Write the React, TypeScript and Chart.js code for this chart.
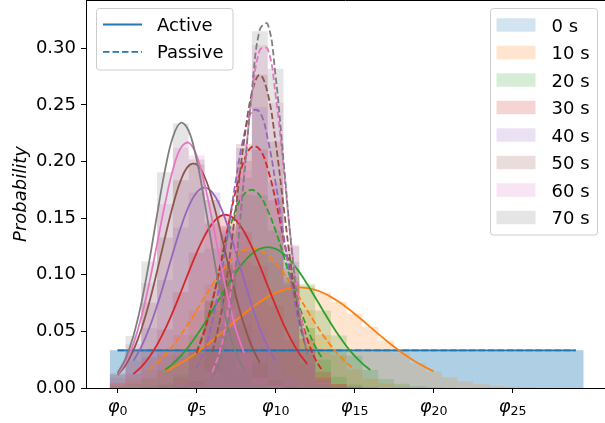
import React, { useEffect, useRef } from 'react';
import { Chart, registerables } from 'chart.js';

Chart.register(...registerables);

// ---------- categories / labels ----------
const TIMES = ['0 s', '10 s', '20 s', '30 s', '40 s', '50 s', '60 s', '70 s'];
const MODES = ['Active', 'Passive'];
const COLORS = ['#1f77b4', '#ff7f0e', '#2ca02c', '#d62728', '#9467bd', '#8c564b', '#e377c2', '#7f7f7f'];
const X_TICKS = [0, 5, 10, 15, 20, 25];
const Y_TICKS = [0, 0.05, 0.1, 0.15, 0.2, 0.25, 0.3];
const X_MIN = -2;
const X_MAX = 30.85;
const Y_MAX = 0.3427;

// ---------- histograms (probability per state φ0..φ29) ----------
const HIST_ACTIVE_0 = [0.0333, 0.0333, 0.0333, 0.0333, 0.0333, 0.0333, 0.0333, 0.0333, 0.0333, 0.0333, 0.0333, 0.0333, 0.0333, 0.0333, 0.0333, 0.0333, 0.0333, 0.0333, 0.0333, 0.0333, 0.0333, 0.0333, 0.0333, 0.0333, 0.0333, 0.0333, 0.0333, 0.0333, 0.0333, 0.0333];
const HIST_PASSIVE_0 = [0.0333, 0.0333, 0.0333, 0.0333, 0.0333, 0.0333, 0.0333, 0.0333, 0.0333, 0.0333, 0.0333, 0.0333, 0.0333, 0.0333, 0.0333, 0.0333, 0.0333, 0.0333, 0.0333, 0.0333, 0.0333, 0.0333, 0.0333, 0.0333, 0.0333, 0.0333, 0.0333, 0.0333, 0.0333, 0.0333];
const HIST_ACTIVE_10 = [0.0033, 0.0058, 0.0095, 0.0148, 0.022, 0.0312, 0.042, 0.0538, 0.0656, 0.0761, 0.0841, 0.0883, 0.0900, 0.0841, 0.0761, 0.0656, 0.0538, 0.042, 0.0312, 0.022, 0.0148, 0.0095, 0.0058, 0.0033, 0.0018, 0.001, 0.0005, 0.0002, 0.0001, 0];
const HIST_PASSIVE_10 = [0.0039, 0.0084, 0.0164, 0.0291, 0.0469, 0.0686, 0.0913, 0.1105, 0.1215, 0.1215, 0.1105, 0.0913, 0.0686, 0.0469, 0.0291, 0.0164, 0.0084, 0.0039, 0.0017, 0.0006, 0.0002, 0, 0, 0, 0, 0, 0, 0, 0, 0];
const HIST_ACTIVE_20 = [0.0015, 0.0037, 0.008, 0.0158, 0.0284, 0.0463, 0.0685, 0.0918, 0.1115, 0.123, 0.123, 0.1115, 0.0918, 0.0685, 0.0463, 0.0284, 0.0158, 0.008, 0.0037, 0.0015, 0.0006, 0.0002, 0, 0, 0, 0, 0, 0, 0, 0];
const HIST_PASSIVE_20 = [0, 0, 0.001, 0.004, 0.012, 0.032, 0.077, 0.136, 0.171, 0.17, 0.139, 0.094, 0.053, 0.025, 0.01, 0.003, 0.001, 0, 0, 0, 0, 0, 0, 0, 0, 0, 0, 0, 0, 0];
const HIST_ACTIVE_30 = [0.0049, 0.0124, 0.0272, 0.0517, 0.0846, 0.1194, 0.1454, 0.1527, 0.1383, 0.108, 0.0728, 0.0423, 0.0212, 0.0092, 0.0034, 0.0011, 0.0003, 0, 0, 0, 0, 0, 0, 0, 0, 0, 0, 0, 0, 0];
const HIST_PASSIVE_30 = [0, 0, 0.0004, 0.0021, 0.0093, 0.0308, 0.0767, 0.1433, 0.2006, 0.2107, 0.1659, 0.098, 0.0434, 0.0144, 0.0036, 0.0007, 0.0001, 0, 0, 0, 0, 0, 0, 0, 0, 0, 0, 0, 0, 0];
const HIST_ACTIVE_40 = [0.0089, 0.024, 0.0528, 0.0955, 0.1417, 0.1727, 0.1727, 0.1417, 0.0955, 0.0528, 0.024, 0.0089, 0.0027, 0.0007, 0.0001, 0, 0, 0, 0, 0, 0, 0, 0, 0, 0, 0, 0, 0, 0, 0];
const HIST_PASSIVE_40 = [0, 0, 0, 0.0005, 0.0034, 0.0172, 0.0592, 0.1392, 0.212, 0.248, 0.1813, 0.092, 0.0318, 0.0075, 0.0012, 0.0001, 0, 0, 0, 0, 0, 0, 0, 0, 0, 0, 0, 0, 0, 0];
const HIST_ACTIVE_50 = [0.0115, 0.0332, 0.0752, 0.1329, 0.1834, 0.1975, 0.1661, 0.1091, 0.0559, 0.0224, 0.007, 0.0017, 0.0003, 0, 0, 0, 0, 0, 0, 0, 0, 0, 0, 0, 0, 0, 0, 0, 0, 0];
const HIST_PASSIVE_50 = [0, 0, 0, 0, 0.0007, 0.0059, 0.0318, 0.1057, 0.2155, 0.2766, 0.2175, 0.1057, 0.0318, 0.0059, 0.0007, 0, 0, 0, 0, 0, 0, 0, 0, 0, 0, 0, 0, 0, 0, 0];
const HIST_ACTIVE_60 = [0.0122, 0.039, 0.0925, 0.1626, 0.2121, 0.2053, 0.1474, 0.0785, 0.031, 0.0091, 0.002, 0.0003, 0, 0, 0, 0, 0, 0, 0, 0, 0, 0, 0, 0, 0, 0, 0, 0, 0, 0];
const HIST_PASSIVE_60 = [0, 0, 0, 0, 0, 0.0016, 0.0141, 0.0695, 0.1917, 0.303, 0.252, 0.1266, 0.0348, 0.0054, 0.0005, 0, 0, 0, 0, 0, 0, 0, 0, 0, 0, 0, 0, 0, 0, 0];
const HIST_ACTIVE_70 = [0.0133, 0.0459, 0.1117, 0.1906, 0.2336, 0.2019, 0.1231, 0.0531, 0.0162, 0.0035, 0.0005, 0, 0, 0, 0, 0, 0, 0, 0, 0, 0, 0, 0, 0, 0, 0, 0, 0, 0, 0];
const HIST_PASSIVE_70 = [0, 0, 0, 0, 0, 0.0007, 0.0089, 0.0566, 0.1855, 0.315, 0.282, 0.1249, 0.0293, 0.0035, 0.0002, 0, 0, 0, 0, 0, 0, 0, 0, 0, 0, 0, 0, 0, 0, 0];

const HIST_ACTIVE = [HIST_ACTIVE_0, HIST_ACTIVE_10, HIST_ACTIVE_20, HIST_ACTIVE_30, HIST_ACTIVE_40, HIST_ACTIVE_50, HIST_ACTIVE_60, HIST_ACTIVE_70];
const HIST_PASSIVE = [HIST_PASSIVE_0, HIST_PASSIVE_10, HIST_PASSIVE_20, HIST_PASSIVE_30, HIST_PASSIVE_40, HIST_PASSIVE_50, HIST_PASSIVE_60, HIST_PASSIVE_70];

// ---------- fitted curves (sampled values; x = start + k * step) ----------
const CURVE_ACTIVE_0 = [0.0333, 0.0333];
const CURVE_ACTIVE_10 = [0.0148, 0.0182, 0.022, 0.0264, 0.0312, 0.0364, 0.042, 0.0478, 0.0538, 0.0598, 0.0656, 0.0711, 0.0761, 0.0805, 0.0841, 0.0867, 0.0883, 0.0889, 0.0883, 0.0867, 0.0841, 0.0805, 0.0761, 0.0711, 0.0656, 0.0598, 0.0538, 0.0478, 0.042, 0.0364, 0.0312, 0.0264, 0.022, 0.0182, 0.0148];
const CURVE_ACTIVE_20 = [0.0158, 0.0215, 0.0284, 0.0367, 0.0463, 0.057, 0.0685, 0.0802, 0.0918, 0.1024, 0.1115, 0.1186, 0.123, 0.1245, 0.123, 0.1186, 0.1115, 0.1024, 0.0918, 0.0802, 0.0685, 0.057, 0.0463, 0.0367, 0.0284, 0.0215, 0.0158];
const CURVE_ACTIVE_30 = [0.0124, 0.0187, 0.0272, 0.0382, 0.0517, 0.0674, 0.0846, 0.1024, 0.1194, 0.1342, 0.1454, 0.1518, 0.1527, 0.148, 0.1383, 0.1245, 0.108, 0.0903, 0.0728, 0.0565, 0.0423, 0.0305, 0.0212];
const CURVE_ACTIVE_40 = [0.024, 0.0364, 0.0528, 0.0728, 0.0955, 0.1192, 0.1417, 0.1604, 0.1727, 0.177, 0.1727, 0.1604, 0.1417, 0.1192, 0.0955, 0.0728, 0.0528, 0.0364, 0.024];
const CURVE_ACTIVE_50 = [0.0115, 0.0201, 0.0332, 0.0516, 0.0752, 0.1031, 0.1329, 0.161, 0.1834, 0.1963, 0.1975, 0.1868, 0.1661, 0.1388, 0.1091, 0.0805, 0.0559, 0.0365, 0.0224];
const CURVE_ACTIVE_60 = [0.0122, 0.0227, 0.039, 0.0624, 0.0925, 0.1273, 0.1626, 0.1928, 0.2121, 0.2166, 0.2053, 0.1805, 0.1474, 0.1116, 0.0785, 0.0512, 0.031];
const CURVE_ACTIVE_70 = [0.0133, 0.0259, 0.0459, 0.0748, 0.1117, 0.1531, 0.1924, 0.2217, 0.2343, 0.2271, 0.2019, 0.1646, 0.1231, 0.0844, 0.0531, 0.0306, 0.0162];

const CURVE_PASSIVE_0 = [0.0333, 0.0333];
const CURVE_PASSIVE_10 = [0.0164, 0.0222, 0.0291, 0.0374, 0.0469, 0.0574, 0.0686, 0.0801, 0.0913, 0.1017, 0.1105, 0.1173, 0.1215, 0.123, 0.1215, 0.1173, 0.1105, 0.1017, 0.0913, 0.0801, 0.0686, 0.0574, 0.0469, 0.0374, 0.0291, 0.0222, 0.0164];
const CURVE_PASSIVE_20 = [0.032, 0.052, 0.077, 0.106, 0.136, 0.158, 0.171, 0.175, 0.17, 0.157, 0.139, 0.117, 0.094, 0.072, 0.053, 0.037, 0.025];
const CURVE_PASSIVE_30 = [0.0308, 0.0504, 0.0767, 0.1087, 0.1433, 0.1757, 0.2006, 0.2131, 0.2107, 0.1938, 0.1659, 0.1322, 0.098, 0.0676, 0.0434, 0.0259, 0.0144];
const CURVE_PASSIVE_40 = [0.0172, 0.0334, 0.0592, 0.0952, 0.1392, 0.1848, 0.223, 0.2445, 0.2436, 0.2204, 0.1813, 0.1355, 0.092, 0.0567, 0.0318];
const CURVE_PASSIVE_50 = [0.0318, 0.0615, 0.1057, 0.161, 0.2175, 0.2605, 0.2766, 0.2605, 0.2175, 0.161, 0.1057, 0.0615, 0.0318];
const CURVE_PASSIVE_60 = [0.0141, 0.0337, 0.0695, 0.124, 0.1917, 0.2565, 0.2985, 0.2995, 0.2588, 0.1945, 0.1266, 0.0713, 0.0348];
const CURVE_PASSIVE_70 = [0.0089, 0.0244, 0.0566, 0.1113, 0.1855, 0.2623, 0.3165, 0.3215, 0.2756, 0.2015, 0.1249, 0.0656, 0.0293];

const CURVE_ACTIVE = [CURVE_ACTIVE_0, CURVE_ACTIVE_10, CURVE_ACTIVE_20, CURVE_ACTIVE_30, CURVE_ACTIVE_40, CURVE_ACTIVE_50, CURVE_ACTIVE_60, CURVE_ACTIVE_70];
const CURVE_PASSIVE = [CURVE_PASSIVE_0, CURVE_PASSIVE_10, CURVE_PASSIVE_20, CURVE_PASSIVE_30, CURVE_PASSIVE_40, CURVE_PASSIVE_50, CURVE_PASSIVE_60, CURVE_PASSIVE_70];
const ACTIVE_START = [0, 3, 3, 1, 1, 0, 0, 0];
const ACTIVE_STEP = [29, 0.5, 0.5, 0.5, 0.5, 0.5, 0.5, 0.5];
const PASSIVE_START = [0, 2, 5, 5, 5, 6, 6, 6];
const PASSIVE_STEP = [29, 0.5, 0.5, 0.5, 0.5, 0.5, 0.5, 0.5];

// ---------- helpers ----------
const FONT = "'DejaVu Sans', sans-serif";
const DASH = [6.5, 3];
const LINE_W = 1.8;

function rgba(hex: string, a: number) {
  const n = parseInt(hex.slice(1), 16);
  return `rgba(${(n >> 16) & 255}, ${(n >> 8) & 255}, ${n & 255}, ${a})`;
}

function roundRectPath(ctx: CanvasRenderingContext2D, x: number, y: number, w: number, h: number, r: number) {
  ctx.beginPath();
  ctx.moveTo(x + r, y);
  ctx.arcTo(x + w, y, x + w, y + h, r);
  ctx.arcTo(x + w, y + h, x, y + h, r);
  ctx.arcTo(x, y + h, x, y, r);
  ctx.arcTo(x, y, x + w, y, r);
  ctx.closePath();
}

const overlayPlugin = {
  id: 'overlay',
  afterDraw(chart: any) {
    const ctx: CanvasRenderingContext2D = chart.ctx;
    const { left, right, top, bottom } = chart.chartArea;
    const xs = chart.scales.x;
    ctx.save();

    // top spine
    ctx.strokeStyle = '#000';
    ctx.lineWidth = 1;
    ctx.beginPath();
    ctx.moveTo(left, top + 0.5);
    ctx.lineTo(right, top + 0.5);
    ctx.stroke();

    // x tick labels: italic φ with upright subscript index
    ctx.fillStyle = '#000';
    ctx.textAlign = 'left';
    ctx.textBaseline = 'alphabetic';
    for (const v of X_TICKS) {
      const px = xs.getPixelForValue(v);
      ctx.font = `italic 18px ${FONT}`;
      const w1 = ctx.measureText('φ').width;
      ctx.font = `12.6px ${FONT}`;
      const sub = String(v);
      const w2 = ctx.measureText(sub).width;
      const x0 = px - (w1 + w2) / 2;
      ctx.font = `italic 18px ${FONT}`;
      ctx.fillText('φ', x0, bottom + 23.5);
      ctx.font = `12.6px ${FONT}`;
      ctx.fillText(sub, x0 + w1, bottom + 27);
    }

    // y axis title
    ctx.save();
    ctx.translate(25.5, (top + bottom) / 2);
    ctx.rotate(-Math.PI / 2);
    ctx.font = `italic 18px ${FONT}`;
    ctx.textAlign = 'center';
    ctx.textBaseline = 'alphabetic';
    ctx.fillText('Probability', 0, 0);
    ctx.restore();

    // legend: line styles
    roundRectPath(ctx, 96.5, 8.5, 136.5, 61.5, 3);
    ctx.fillStyle = 'rgba(255,255,255,0.8)';
    ctx.fill();
    ctx.strokeStyle = '#cccccc';
    ctx.lineWidth = 1;
    ctx.stroke();
    MODES.forEach((m, i) => {
      const cy = 24.5 + 27.4 * i;
      ctx.strokeStyle = COLORS[0];
      ctx.lineWidth = LINE_W;
      ctx.setLineDash(i === 0 ? [] : DASH);
      ctx.beginPath();
      ctx.moveTo(103, cy);
      ctx.lineTo(142, cy);
      ctx.stroke();
      ctx.setLineDash([]);
      ctx.fillStyle = '#000';
      ctx.font = `18px ${FONT}`;
      ctx.textAlign = 'left';
      ctx.fillText(m, 157, cy + 6.5);
    });

    // legend: times
    roundRectPath(ctx, 490.5, 8.5, 107, 226.5, 3);
    ctx.fillStyle = 'rgba(255,255,255,0.8)';
    ctx.fill();
    ctx.strokeStyle = '#cccccc';
    ctx.lineWidth = 1;
    ctx.stroke();
    TIMES.forEach((t, i) => {
      const cy = 25 + 27.5 * i;
      ctx.fillStyle = rgba(COLORS[i], 0.2);
      ctx.fillRect(496.5, cy - 6.7, 39, 13.4);
      ctx.fillStyle = '#000';
      ctx.font = `18px ${FONT}`;
      ctx.textAlign = 'left';
      ctx.fillText(t, 551.5, cy + 6.5);
    });

    ctx.restore();
  },
};

export default function App() {
  const ref = useRef<HTMLCanvasElement | null>(null);

  useEffect(() => {
    document.body.style.margin = '0';
    document.body.style.overflow = 'hidden';
    const canvas = ref.current;
    if (!canvas) return;

    const datasets: any[] = [];
    let order = 1000;
    TIMES.forEach((t, i) => {
      [HIST_ACTIVE[i], HIST_PASSIVE[i]].forEach((vals, j) => {
        const pts = vals.map((v, k) => ({ x: k - 0.5, y: v }));
        pts.push({ x: vals.length - 0.5, y: vals[vals.length - 1] });
        datasets.push({
          type: 'line',
          label: `${t} ${MODES[j]} histogram`,
          data: pts,
          stepped: 'before',
          fill: 'origin',
          backgroundColor: rgba(COLORS[i], 0.2),
          borderColor: 'rgba(0,0,0,0)',
          borderWidth: 0,
          pointRadius: 0,
          order: order--,
        });
      });
    });
    order = 500;
    TIMES.forEach((t, i) => {
      const curves = [
        { vals: CURVE_ACTIVE[i], start: ACTIVE_START[i], step: ACTIVE_STEP[i], dash: [] as number[] },
        { vals: CURVE_PASSIVE[i], start: PASSIVE_START[i], step: PASSIVE_STEP[i], dash: DASH },
      ];
      curves.forEach((c, j) => {
        datasets.push({
          type: 'line',
          label: `${t} ${MODES[j]}`,
          data: c.vals.map((v, k) => ({ x: c.start + k * c.step, y: v })),
          borderColor: COLORS[i],
          borderWidth: LINE_W,
          borderDash: c.dash,
          fill: false,
          tension: 0.4,
          pointRadius: 0,
          order: order--,
        });
      });
    });

    const gridOpts = { display: true, drawOnChartArea: false, drawTicks: true, tickLength: 5, color: '#000', lineWidth: 1 };
    const borderOpts = { display: true, color: '#000', width: 1 };

    const chart = new Chart(canvas, {
      type: 'line',
      data: { datasets },
      options: {
        animation: false,
        responsive: false,
        devicePixelRatio: 1,
        layout: { padding: 0 },
        plugins: { legend: { display: false }, tooltip: { enabled: false }, title: { display: false } },
        scales: {
          x: {
            type: 'linear',
            min: X_MIN,
            max: X_MAX,
            afterBuildTicks: (s: any) => { s.ticks = X_TICKS.map((v) => ({ value: v })); },
            afterFit: (s: any) => { s.height = 35; s.paddingLeft = 0; s.paddingRight = 0; s.paddingTop = 0; s.paddingBottom = 0; },
            ticks: { callback: () => '', autoSkip: false, maxRotation: 0, padding: 0 },
            grid: gridOpts,
            border: borderOpts,
          },
          y: {
            type: 'linear',
            min: 0,
            max: Y_MAX,
            afterBuildTicks: (s: any) => { s.ticks = Y_TICKS.map((v) => ({ value: v })); },
            afterFit: (s: any) => { s.width = 86; s.paddingLeft = 0; s.paddingRight = 0; s.paddingTop = 0; s.paddingBottom = 0; },
            ticks: { callback: (v: any) => Number(v).toFixed(2), autoSkip: false, padding: 5, color: '#000', font: { family: FONT, size: 18 } },
            grid: gridOpts,
            border: borderOpts,
          },
        },
      } as any,
      plugins: [overlayPlugin],
    });
    return () => chart.destroy();
  }, []);

  return (
    <div style={{ width: 605, height: 423 }}>
      <canvas ref={ref} width={605} height={423} style={{ display: 'block' }} />
    </div>
  );
}
